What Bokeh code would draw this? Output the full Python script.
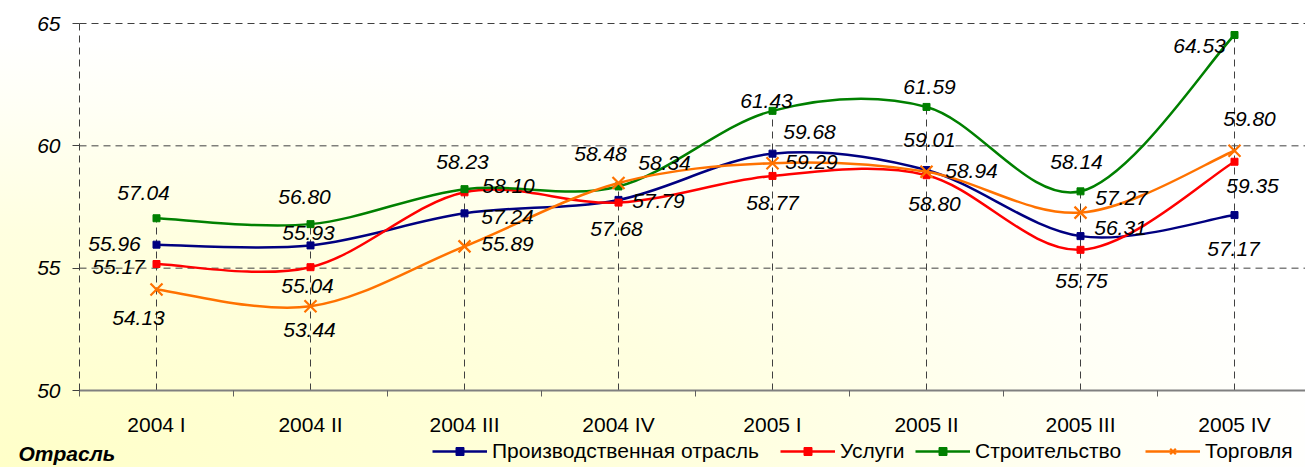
import numpy as np
from bokeh.plotting import figure
from bokeh.models import (ColumnDataSource, Range1d, FixedTicker, LabelSet,
                          Legend, LegendItem, Label)
from bokeh.core.properties import value
from bokeh.embed import file_html
from bokeh.resources import INLINE

# ---------------- data ----------------
categories = ["2004 I", "2004 II", "2004 III", "2004 IV",
              "2005 I", "2005 II", "2005 III", "2005 IV"]
prod = [55.96, 55.93, 57.24, 57.79, 59.68, 59.01, 56.31, 57.17]
services = [55.17, 55.04, 58.10, 57.68, 58.77, 58.80, 55.75, 59.35]
construction = [57.04, 56.80, 58.23, 58.34, 61.43, 61.59, 58.14, 64.53]
trade = [54.13, 53.44, 55.89, 58.48, 59.29, 58.94, 57.27, 59.80]
series_names = ["Производственная отрасль", "Услуги", "Строительство", "Торговля"]
y_ticks = [50, 55, 60, 65]
legend_title = "Отрасль"

# ---------------- styles / placement ----------------
W, H = 1305, 467
colors = ["#000080", "#FF0000", "#008000", "#FF7200"]
markers = ["square", "square", "square", "x"]
marker_sizes = [7, 7, 7, 17]
# label offsets in pixels (dx right, dy down)
label_offsets = [
    [(-42, -1), (-2, -12), (43, 4), (40, 1), (37, -22), (3, -30), (40, -8), (-1, 34)],
    [(-38, 3), (-3, 19), (44, -6), (-2, 26), (0, 27), (8, 29), (1, 31), (18, 24)],
    [(-13, -25), (-6, -27), (-2, -27), (46, -23), (-6, -10), (3, -20), (-4, -29), (-35, 11)],
    [(-18, 29), (-1, 24), (43, -2), (-18, -29), (39, -1), (45, -1), (41, -15), (15, -32)],
]
legend_x = [432, 780, 915, 1145]

# plot-area geometry in pixels
AX_LEFT, AX_TOP, AX_BOTTOM, CAT_W = 79, 23, 390, 154
px_per_y = (AX_BOTTOM - AX_TOP) / (y_ticks[-1] - y_ticks[0])
x_lo = -0.5 - AX_LEFT / CAT_W
x_hi = -0.5 + (W - AX_LEFT) / CAT_W
y_lo = y_ticks[0] - (H - AX_BOTTOM) / px_per_y
y_hi = y_ticks[-1] + AX_TOP / px_per_y

FONT = "Liberation Sans"
FS = "21px"
GRID = "#404040"
DASH = "7 5"

p = figure(width=W, height=H,
           x_range=Range1d(x_lo, x_hi), y_range=Range1d(y_lo, y_hi),
           output_backend="svg", toolbar_location=None,
           min_border_left=0, min_border_right=0,
           min_border_top=0, min_border_bottom=0)
p.background_fill_color = None
p.border_fill_color = None
p.outline_line_color = None
p.styles = {"background-image":
            "radial-gradient(ellipse 1350px 430px at 0% 100%, #FFFFC8 0%, "
            "#FFFFE0 55%, #FFFFF6 85%, #FFFFFF 100%)",
            "background-color": "#FFFFFF"}

# axes
idx = list(range(len(categories)))
p.xaxis.fixed_location = y_ticks[0]
p.xaxis.bounds = (-0.5, x_hi)
p.xaxis.ticker = FixedTicker(ticks=idx, minor_ticks=[i - 0.5 for i in range(len(categories) + 1)])
p.xaxis.major_label_overrides = {i: c for i, c in zip(idx, categories)}
p.xaxis.major_tick_out = 0
p.xaxis.major_tick_in = 0
p.xaxis.minor_tick_out = 6
p.xaxis.minor_tick_in = 0
p.xaxis.minor_tick_line_color = "#606060"
p.xaxis.axis_line_color = "#808080"
p.xaxis.axis_line_width = 2
p.xaxis.major_label_standoff = 16
p.xaxis.major_label_text_font = FONT
p.xaxis.major_label_text_font_size = FS
p.xaxis.major_label_text_color = "black"

p.yaxis.fixed_location = -0.5
p.yaxis.bounds = (y_ticks[0], y_ticks[-1])
p.yaxis.ticker = FixedTicker(ticks=y_ticks)
p.yaxis.major_tick_out = 7
p.yaxis.major_tick_in = 0
p.yaxis.major_tick_line_color = GRID
p.yaxis.minor_tick_line_color = None
p.yaxis.axis_line_color = GRID
p.yaxis.axis_line_dash = DASH
p.yaxis.major_label_standoff = 12
p.yaxis.major_label_text_font = FONT
p.yaxis.major_label_text_font_size = FS
p.yaxis.major_label_text_font_style = "italic"
p.yaxis.major_label_text_color = "black"

p.grid.visible = False

# horizontal grid lines (from the tick list) across the plot area
gy = y_ticks[1:]
p.segment(x0=[-0.5] * len(gy), y0=gy, x1=[x_hi] * len(gy), y1=gy,
          line_color=GRID, line_dash=DASH, line_width=1)

# drop lines
all_series = [prod, services, construction, trade]
maxes = np.max(np.array(all_series), axis=0)
p.segment(x0=idx, y0=[y_ticks[0]] * len(idx), x1=idx, y1=list(maxes),
          line_color=GRID, line_dash=DASH, line_width=1)

# smoothed lines (Catmull-Rom -> cubic Bezier, as Excel smoothing)
for k, vals in enumerate(all_series):
    x = np.array(idx, dtype=float)
    y = np.array(vals, dtype=float)
    n = len(x)
    xp = np.concatenate([[x[0]], x, [x[-1]]])
    yp = np.concatenate([[y[0]], y, [y[-1]]])
    src = ColumnDataSource(dict(
        x0=x[:-1], y0=y[:-1], x1=x[1:], y1=y[1:],
        cx0=x[:-1] + (xp[2:n + 1] - xp[0:n - 1]) / 6.0,
        cy0=y[:-1] + (yp[2:n + 1] - yp[0:n - 1]) / 6.0,
        cx1=x[1:] - (xp[3:n + 2] - xp[1:n]) / 6.0,
        cy1=y[1:] - (yp[3:n + 2] - yp[1:n]) / 6.0,
    ))
    bz = p.bezier(x0="x0", y0="y0", x1="x1", y1="y1", cx0="cx0", cy0="cy0",
                  cx1="cx1", cy1="cy1", source=src, line_color=colors[k], line_width=2.5)
    sc = p.scatter(x=idx, y=vals, marker=markers[k], size=marker_sizes[k],
                   color=colors[k], line_width=2.2 if markers[k] == "x" else 1)
    lsrc = ColumnDataSource(dict(
        x=idx, y=vals, t=["%.2f" % v for v in vals],
        dx=[o[0] for o in label_offsets[k]], dy=[-o[1] for o in label_offsets[k]]))
    p.add_layout(LabelSet(x="x", y="y", text="t", x_offset="dx", y_offset="dy",
                          source=lsrc, text_align="center", text_baseline="middle",
                          text_font=value(FONT), text_font_size=value(FS),
                          text_font_style=value("italic"), text_color=value("black")))
    leg = Legend(items=[LegendItem(label=series_names[k], renderers=[bz, sc])],
                 location=(legend_x[k], 4), orientation="horizontal",
                 background_fill_alpha=0, border_line_alpha=0, padding=0, margin=0,
                 glyph_width=55, glyph_height=20, label_height=20, label_standoff=5,
                 label_text_font=FONT, label_text_font_size=FS,
                 label_text_color="black")
    p.add_layout(leg)

p.add_layout(Label(x=18, y=H - 453, x_units="screen", y_units="screen", text=legend_title,
                   text_font=FONT, text_font_size=FS, text_font_style="bold italic",
                   text_baseline="middle", text_color="black"))

open("out.html", "w").write(file_html(p, INLINE))
